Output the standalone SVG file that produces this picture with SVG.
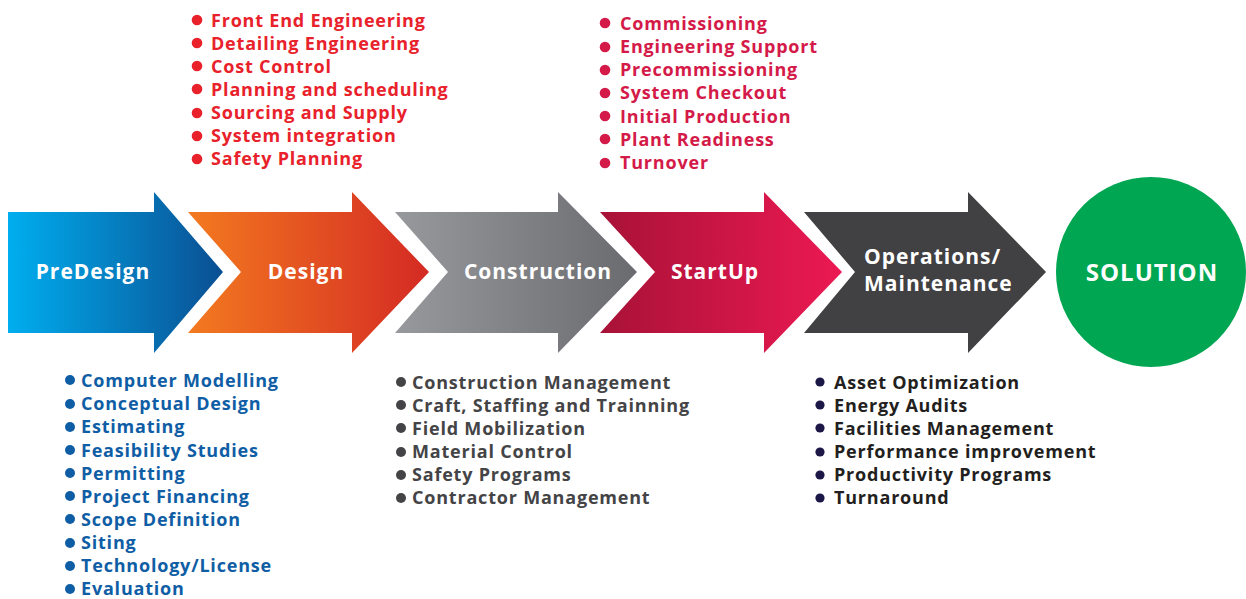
<svg xmlns="http://www.w3.org/2000/svg" width="1246" height="599" viewBox="0 0 1246 599">
<defs>
<linearGradient id="gBlue" x1="0" y1="0" x2="1" y2="0"><stop offset="0" stop-color="#00AEEF"/><stop offset="1" stop-color="#0A4F92"/></linearGradient>
<linearGradient id="gOrange" x1="0" y1="0" x2="1" y2="0"><stop offset="0" stop-color="#F37A20"/><stop offset="1" stop-color="#D42A23"/></linearGradient>
<linearGradient id="gGray" x1="0" y1="0" x2="1" y2="0"><stop offset="0" stop-color="#98999C"/><stop offset="1" stop-color="#6A6B6E"/></linearGradient>
<linearGradient id="gRed" x1="0" y1="0" x2="1" y2="0"><stop offset="0" stop-color="#A81237"/><stop offset="1" stop-color="#EC1952"/></linearGradient>
</defs>
<style>
text{font-family:"Open Sans","Liberation Sans",sans-serif;font-weight:700;}
.lbl{fill:#fff;font-size:21px;letter-spacing:1px;}
.li{font-size:18px;letter-spacing:0.8px;}
.red1{fill:#E8212B;}
.red2{fill:#D41A48;}
.blue{fill:#0F5EA5;}
.gray{fill:#444446;}
.dark{fill:#231F20;}
</style>
<g id="predesign">
<path d="M8,212 H154 V192 L223,272 L154,353 V333 H8 Z" fill="url(#gBlue)"/>
<text class="lbl" x="93" y="279" text-anchor="middle">PreDesign</text>
</g>
<g id="design">
<path d="M188,212 H352 V192 L429,272 L352,353 V333 H188 L241,272 Z" fill="url(#gOrange)"/>
<text class="lbl" x="306" y="279" text-anchor="middle">Design</text>
</g>
<g id="construction">
<path d="M395,212 H558 V192 L637,272 L558,353 V333 H395 L448,272 Z" fill="url(#gGray)"/>
<text class="lbl" x="538" y="279" text-anchor="middle">Construction</text>
</g>
<g id="startup">
<path d="M600,212 H764 V192 L842,272 L764,353 V333 H600 L655,272 Z" fill="url(#gRed)"/>
<text class="lbl" x="715" y="279" text-anchor="middle">StartUp</text>
</g>
<g id="operations">
<path d="M804,212 H968 V192 L1046,272 L968,353 V333 H804 L855,272 Z" fill="#414042"/>
<text class="lbl" x="864" y="264">Operations/</text>
<text class="lbl" x="864" y="291">Maintenance</text>
</g>
<g id="solution">
<circle cx="1151" cy="272" r="95" fill="#00A651"/>
<text x="1152" y="281" text-anchor="middle" fill="#fff" font-size="24" letter-spacing="1">SOLUTION</text>
</g>
<g id="connectors"></g>
<g id="design-list" class="red1">
<circle cx="197" cy="20" r="5.3"/><circle cx="197" cy="43" r="5.3"/><circle cx="197" cy="66" r="5.3"/><circle cx="197" cy="89" r="5.3"/><circle cx="197" cy="113" r="5.3"/><circle cx="197" cy="136" r="5.3"/><circle cx="197" cy="159" r="5.3"/>
<text class="li" x="211" y="26.5">Front End Engineering</text>
<text class="li" x="211" y="49.5">Detailing Engineering</text>
<text class="li" x="211" y="72.5">Cost Control</text>
<text class="li" x="211" y="95.5">Planning and scheduling</text>
<text class="li" x="211" y="119">Sourcing and Supply</text>
<text class="li" x="211" y="142">System integration</text>
<text class="li" x="211" y="165">Safety Planning</text>
</g>
<g id="startup-list" class="red2">
<circle cx="605" cy="23" r="5.3"/><circle cx="605" cy="47" r="5.3"/><circle cx="605" cy="70" r="5.3"/><circle cx="605" cy="93" r="5.3"/><circle cx="605" cy="116" r="5.3"/><circle cx="605" cy="139" r="5.3"/><circle cx="605" cy="163" r="5.3"/>
<text class="li" x="620" y="29.5">Commissioning</text>
<text class="li" x="620" y="53">Engineering Support</text>
<text class="li" x="620" y="76">Precommissioning</text>
<text class="li" x="620" y="99">System Checkout</text>
<text class="li" x="620" y="122.5">Initial Production</text>
<text class="li" x="620" y="145.5">Plant Readiness</text>
<text class="li" x="620" y="169">Turnover</text>
</g>
<g id="predesign-list" class="blue">
<circle cx="70" cy="380" r="5"/><circle cx="70" cy="404" r="5"/><circle cx="70" cy="427" r="5"/><circle cx="70" cy="450" r="5"/><circle cx="70" cy="473" r="5"/><circle cx="70" cy="496" r="5"/><circle cx="70" cy="519" r="5"/><circle cx="70" cy="543" r="5"/><circle cx="70" cy="566" r="5"/><circle cx="70" cy="589" r="5"/>
<text class="li" x="81" y="386.5">Computer Modelling</text>
<text class="li" x="81" y="410">Conceptual Design</text>
<text class="li" x="81" y="433">Estimating</text>
<text class="li" x="81" y="456.5">Feasibility Studies</text>
<text class="li" x="81" y="479.5">Permitting</text>
<text class="li" x="81" y="502.5">Project Financing</text>
<text class="li" x="81" y="525.5">Scope Definition</text>
<text class="li" x="81" y="549">Siting</text>
<text class="li" x="81" y="572">Technology/License</text>
<text class="li" x="81" y="595">Evaluation</text>
</g>
<g id="construction-list" class="gray">
<circle cx="401" cy="382" r="5"/><circle cx="401" cy="405" r="5"/><circle cx="401" cy="428" r="5"/><circle cx="401" cy="452" r="5"/><circle cx="401" cy="475" r="5"/><circle cx="401" cy="498" r="5"/>
<text class="li" x="412" y="388.5">Construction Management</text>
<text class="li" x="412" y="411.5">Craft, Staffing and Trainning</text>
<text class="li" x="412" y="434.5">Field Mobilization</text>
<text class="li" x="412" y="458">Material Control</text>
<text class="li" x="412" y="481">Safety Programs</text>
<text class="li" x="412" y="504">Contractor Management</text>
</g>
<g id="operations-list">
<g fill="#1B1747"><circle cx="820" cy="382" r="4.6"/><circle cx="820" cy="405" r="4.6"/><circle cx="820" cy="428" r="4.6"/><circle cx="820" cy="452" r="4.6"/><circle cx="820" cy="475" r="4.6"/><circle cx="820" cy="498" r="4.6"/></g>
<g class="dark">
<text class="li" x="834" y="388.5">Asset Optimization</text>
<text class="li" x="834" y="411.5">Energy Audits</text>
<text class="li" x="834" y="434.5">Facilities Management</text>
<text class="li" x="834" y="458">Performance improvement</text>
<text class="li" x="834" y="481">Productivity Programs</text>
<text class="li" x="834" y="504">Turnaround</text>
</g>
</g>
</svg>
